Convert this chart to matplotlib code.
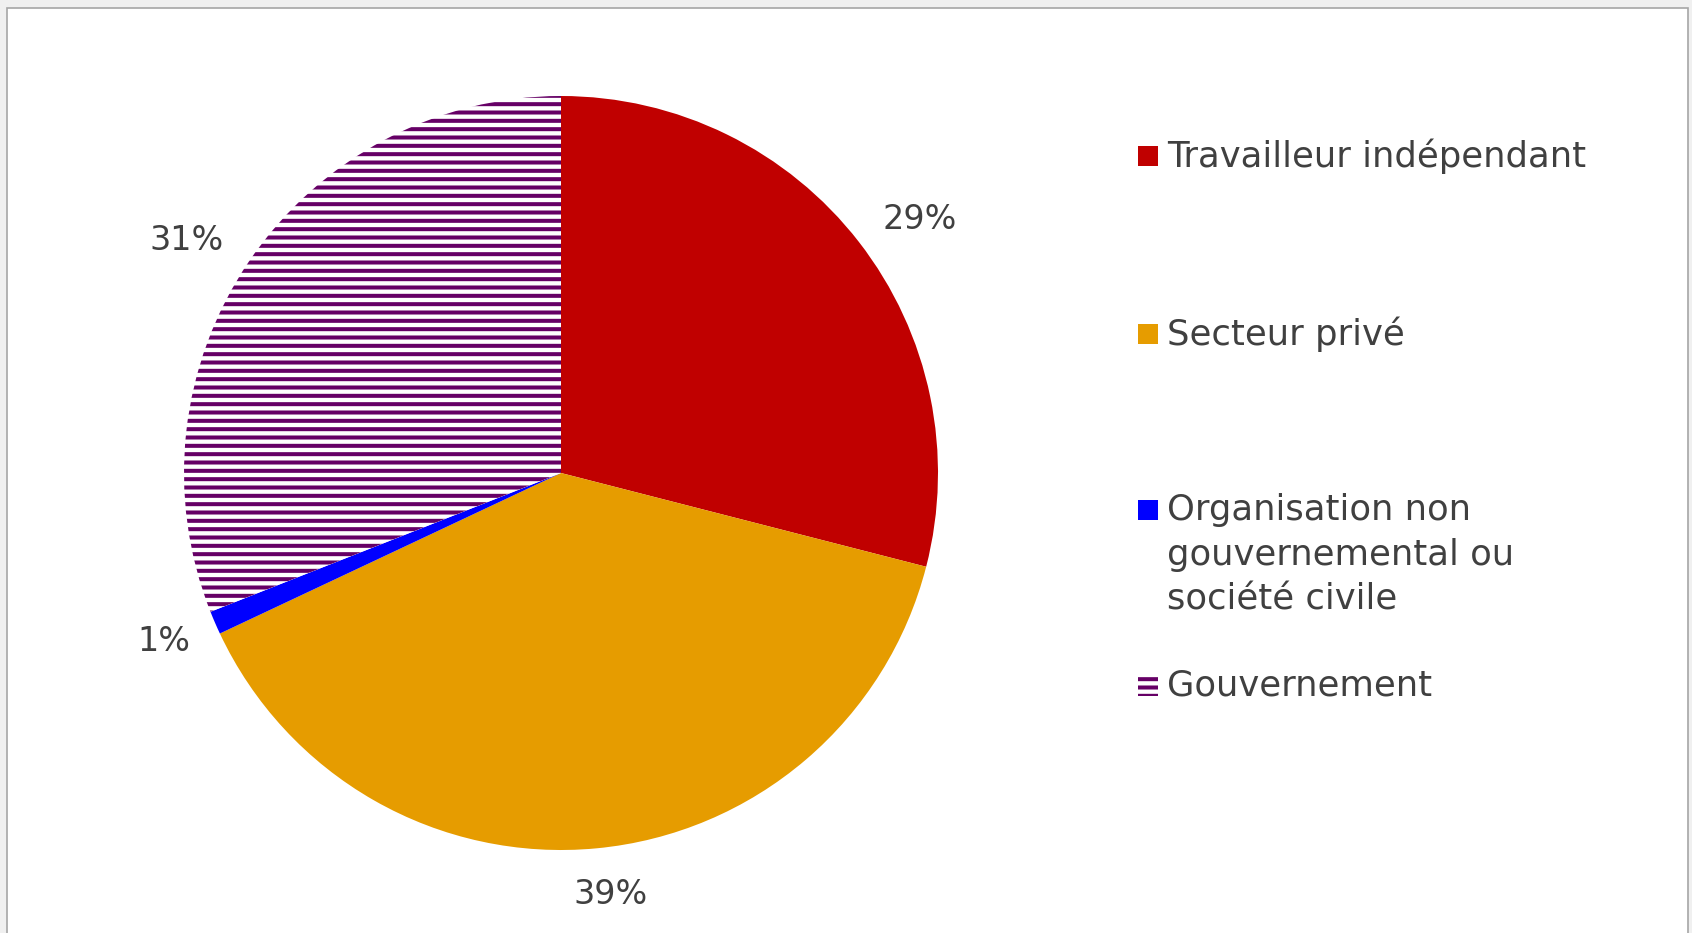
import numpy as np
import matplotlib
matplotlib.use("Agg")
import matplotlib.pyplot as plt
from matplotlib.patches import Rectangle

categories = ["Travailleur indépendant", "Secteur privé",
              "Organisation non\ngouvernemental ou\nsociété civile", "Gouvernement"]
values = [29, 39, 1, 31]
labels = ["29%", "39%", "1%", "31%"]
colors = ["#C00000", "#E69C00", "#0000FF", "#FFFFFF"]
hatches = [None, None, None, "--"]
hatch_color = "#660066"

W, H = 1692, 933
plt.rcParams['font.family'] = ['DejaVu Sans']
plt.rcParams['hatch.linewidth'] = 2.9
text_color = "#404040"

fig = plt.figure(figsize=(W / 100, H / 100), dpi=100)
fig.patch.set_facecolor("#F0F0F0")

# white chart area with border
bg = Rectangle((7 / W, -0.05), (1688 - 7) / W, (H - 8) / H + 0.05, transform=fig.transFigure,
               facecolor="white", edgecolor="#A6A6A6", linewidth=1.2, zorder=-10)
fig.patches.append(bg)

cx, cy, R = 561, 473, 377
ax = fig.add_axes([(cx - R) / W, (H - cy - R) / H, 2 * R / W, 2 * R / H])
ax.set_zorder(1)
ax.set_facecolor("none")
wedges, _ = ax.pie(values, colors=colors, startangle=90, counterclock=False,
                   radius=1, wedgeprops=dict(linewidth=0))
for w, h in zip(wedges, hatches):
    if h:
        w.set_hatch(h)
        w.set_edgecolor(hatch_color)
        w.set_linewidth(0)
ax.set_xlim(-1, 1)
ax.set_ylim(-1, 1)
ax.set_aspect("equal")
ax.axis("off")

# label placement (layout): radius factor and angular nudge in degrees
label_r = [1.171, 1.119, 1.142, 1.174]
label_da = [-2.2, 1.3, -0.8, 2.1]
for w, lab, r, da in zip(wedges, labels, label_r, label_da):
    ang = np.deg2rad((w.theta1 + w.theta2) / 2 + da)
    ax.text(r * np.cos(ang), r * np.sin(ang) - 0.008, lab, ha="center", va="center",
            fontsize=24, color=text_color, clip_on=False)

# legend (layout in pixels)
leg_y = [156, 334, 510, 686]
line_h = 45
for cat, col, h, y in zip(categories, colors, hatches, leg_y):
    nlines = cat.count("\n") + 1
    sq = Rectangle((1138 / W, 1 - (y + 10) / H), 20 / W, 20 / H,
                   transform=fig.transFigure, facecolor=col, linewidth=0,
                   hatch=h, edgecolor=hatch_color if h else col, zorder=2)
    fig.patches.append(sq)
    center_y = y + (nlines - 1) * line_h / 2
    fig.text(1167 / W, 1 - center_y / H, cat, ha="left", va="center",
             fontsize=25.5, color=text_color, linespacing=1.39)

fig.savefig("out.png", dpi=100, facecolor=fig.get_facecolor())
